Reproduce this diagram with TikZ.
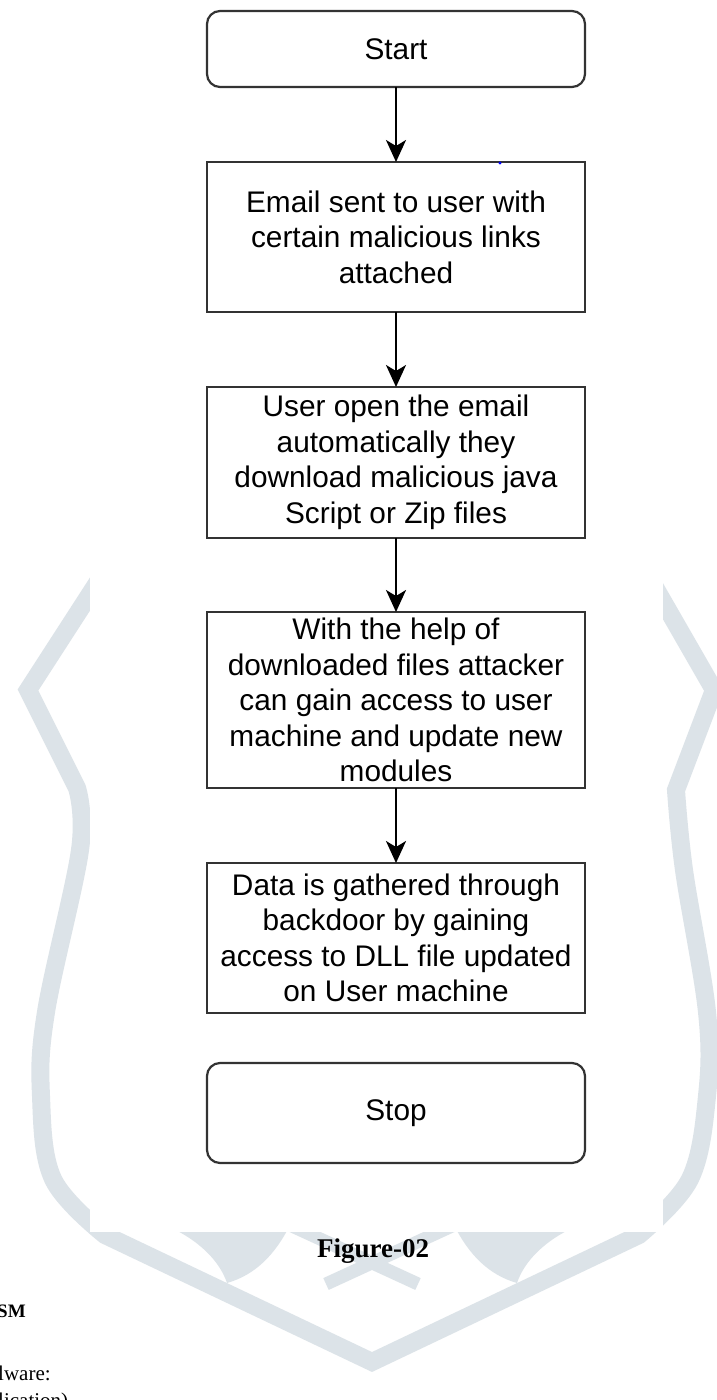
\documentclass[tikz,border=0pt]{standalone}
\usepackage{fontspec}
\setmainfont{Liberation Sans}
\newfontfamily\serifcap{Liberation Serif}
\usetikzlibrary{positioning,arrows.meta}
\definecolor{wmgray}{RGB}{220,227,232}
\definecolor{boxline}{RGB}{51,51,51}
\tikzset{
	flowtext/.style={
		font=\fontsize{29.8}{35.5}\selectfont, align=center, text=black
	},
	%
	terminal/.style={
		flowtext, rectangle, rounded corners=13pt, draw=boxline, line width=2.2pt,
		minimum width=378pt, minimum height=76pt, inner sep=0pt, outer sep=0pt
	},
	%
	process/.style={
		flowtext, rectangle, draw=boxline, line width=2.2pt,
		minimum width=378pt, inner sep=0pt, outer sep=0pt
	},
	%
	flowarrow/.style={
		-{Stealth[length=22pt,width=20pt,inset=6pt]}, line width=2.2pt, draw=black
	},
	%
	wmband/.style={
		draw=wmgray, line width=18pt, line join=miter
	}
}

\begin{document}
\begin{tikzpicture}[x=1pt,y=-1pt,node distance=75pt]
\clip (0,0) rectangle (717,1400);
\fill[white] (0,0) rectangle (717,1400);

%watermark
\draw[wmband] (112,560) -- (28,690) -- (77,788)
  -- plot[smooth,tension=0.6] coordinates {(77,788) (80,850) (46,1012) (41,1096) (53,1179) (105,1235)}
  -- (372,1362) -- (639,1235)
  -- plot[smooth,tension=0.6] coordinates {(639,1235) (690,1179) (707,1096) (707,1012) (684,870) (676,790)}
  -- (714,690) -- (645,570);
\fill[wmgray] (165,1225) -- (290,1225) .. controls (275,1255) and (255,1275) .. (227,1283)
  .. controls (220,1262) and (200,1240) .. cycle;
\fill[wmgray] (579,1225) -- (454,1225) .. controls (469,1255) and (489,1275) .. (517,1283)
  .. controls (524,1262) and (544,1240) .. cycle;
\draw[wmgray, line width=13pt] (292,1226) -- (418,1284);
\draw[wmgray, line width=13pt] (452,1226) -- (326,1284);
\fill[white] (90,0) rectangle (663,1232);

%boxes
\node[terminal] (start) at (396,49) {Start};
\node[process, minimum height=150pt, below=of start] (email) {Email sent to user with\\certain malicious links\\attached};
\node[process, minimum height=151pt, below=of email] (open) {User open the email\\automatically they\\download malicious java\\Script or Zip files};
\node[process, minimum height=176pt, below=74pt of open] (access) {With the help of\\downloaded files attacker\\can gain access to user\\machine and update new\\modules};
\node[process, minimum height=150pt, below=of access] (gather) {Data is gathered through\\backdoor by gaining\\access to DLL file updated\\on User machine};
\node[terminal, minimum height=100pt, below=50pt of gather] (stop) {Stop};
\fill[blue] (500,163) circle (1.6);

%arrows
\draw[flowarrow] (start) -- (email);
\draw[flowarrow] (email) -- (open);
\draw[flowarrow] (open) -- (access);
\draw[flowarrow] (access) -- (gather);

%caption and page text
\node[font=\serifcap\bfseries\fontsize{27}{30}\selectfont, anchor=base] (caption) at (373,1257) {Figure-02};
\node[font=\serifcap\bfseries\fontsize{19}{22}\selectfont, anchor=base west, inner sep=0pt] (sm) at (-3,1317) {SM};
\node[font=\serifcap\fontsize{21}{24}\selectfont, anchor=base west, inner sep=0pt] (lware) at (-2,1380) {lware:};
\node[font=\serifcap\fontsize{21}{24}\selectfont, anchor=base west, inner sep=0pt] (lication) at (-2,1407) {lication)};
\end{tikzpicture}
\end{document}
